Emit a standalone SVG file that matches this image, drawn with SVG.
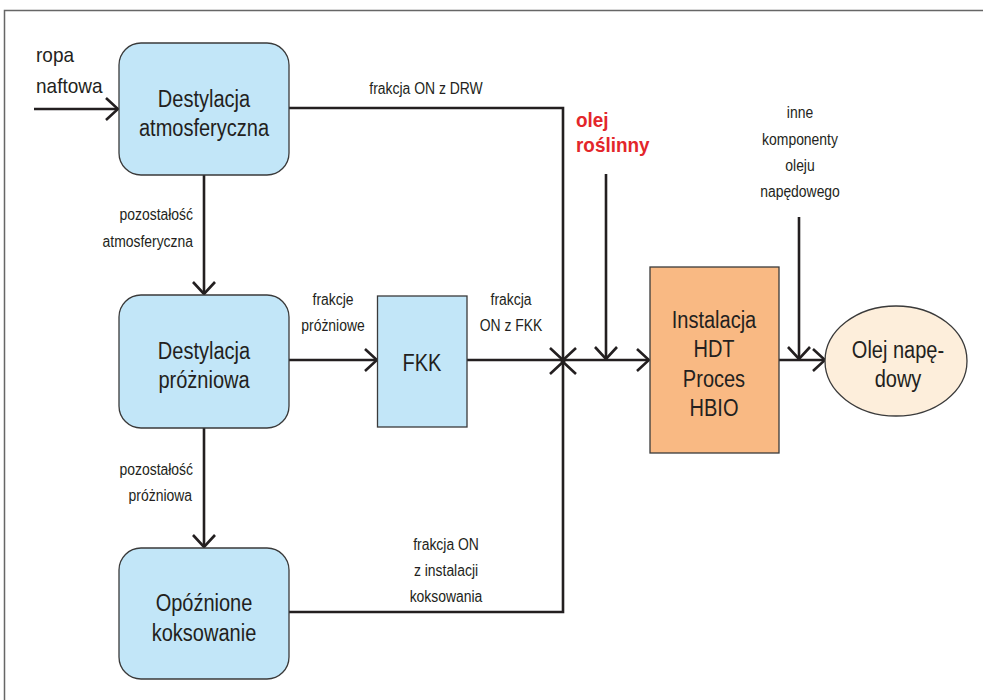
<svg xmlns="http://www.w3.org/2000/svg" width="983" height="700" viewBox="0 0 983 700">
<defs>
<style>
.t{font-family:"Liberation Sans",Arial,sans-serif;fill:#231f20;text-anchor:middle}
.big{font-size:23px}
.sm{font-size:16px}
.e{text-anchor:end}
.s{text-anchor:start}
.red{font-size:21px;font-weight:bold;fill:#e3262b;text-anchor:start}
.box{fill:#c2e6f8;stroke:#3a3a3a;stroke-width:1.3}
.ln{fill:none;stroke:#231f20;stroke-width:2.6}
</style>
<marker id="arr" markerUnits="userSpaceOnUse" viewBox="0 0 14 24" refX="13" refY="12" markerWidth="14" markerHeight="24" orient="auto">
<path d="M1,1 L13,12 L1,23" fill="none" stroke="#231f20" stroke-width="2.6"/>
</marker>
</defs>
<rect x="4.5" y="10.5" width="1100" height="800" fill="none" stroke="#666" stroke-width="1.5"/>

<g id="connectors">
<path class="ln" d="M34,109 H118" marker-end="url(#arr)"/>
<path class="ln" d="M289,108 H563 V612 H289"/>
<path class="ln" d="M204,175 V294" marker-end="url(#arr)"/>
<path class="ln" d="M204,428 V547" marker-end="url(#arr)"/>
<path class="ln" d="M289,360 H377" marker-end="url(#arr)"/>
<path class="ln" d="M467,360 H563"/>
<path class="ln" d="M550,348 L564,361 L550,374 M576,348 L562,361 L576,374" stroke-width="2"/>
<path class="ln" d="M563,360 H649" marker-end="url(#arr)"/>
<path class="ln" d="M606,174 V359" marker-end="url(#arr)"/>
<path class="ln" d="M799,217 V359" marker-end="url(#arr)"/>
<path class="ln" d="M779,360 H825" marker-end="url(#arr)"/>
</g>

<g id="ropa">
<text class="t s" style="font-size:20px" transform="matrix(0.95 0 0 1 36 62)">ropa</text>
<text class="t s" style="font-size:20px" transform="matrix(0.95 0 0 1 36 93)">naftowa</text>
</g>

<g id="atm">
<rect class="box" x="119" y="43" width="170" height="132" rx="22"/>
<text class="t big" transform="matrix(0.87 0 0 1 204 107)">Destylacja</text>
<text class="t big" transform="matrix(0.87 0 0 1 204 136)">atmosferyczna</text>
</g>

<g id="prozn">
<rect class="box" x="119" y="295" width="170" height="133" rx="22"/>
<text class="t big" transform="matrix(0.87 0 0 1 204 359)">Destylacja</text>
<text class="t big" transform="matrix(0.87 0 0 1 204 388)">próżniowa</text>
</g>

<g id="koks">
<rect class="box" x="119" y="548" width="170" height="131" rx="22"/>
<text class="t big" transform="matrix(0.87 0 0 1 204 611)">Opóźnione</text>
<text class="t big" transform="matrix(0.87 0 0 1 204 641)">koksowanie</text>
</g>

<g id="fkk">
<rect class="box" x="377.5" y="296" width="89.5" height="131"/>
<text class="t big" transform="matrix(0.87 0 0 1 422 371)">FKK</text>
</g>

<g id="hdt">
<rect x="650" y="267" width="129" height="186" fill="#f9b983" stroke="#3a3a3a" stroke-width="1.3"/>
<text class="t big" transform="matrix(0.87 0 0 1 714 328)">Instalacja</text>
<text class="t big" transform="matrix(0.87 0 0 1 714 357)">HDT</text>
<text class="t big" transform="matrix(0.87 0 0 1 714 387)">Proces</text>
<text class="t big" transform="matrix(0.87 0 0 1 714 416)">HBIO</text>
</g>

<g id="olej">
<ellipse cx="896" cy="361" rx="71" ry="55" fill="#fdeedb" stroke="#3a3a3a" stroke-width="1.3"/>
<text class="t big" transform="matrix(0.87 0 0 1 898 358)">Olej napę-</text>
<text class="t big" transform="matrix(0.87 0 0 1 898 387)">dowy</text>
</g>

<g id="labels">
<text class="t sm" transform="matrix(0.87 0 0 1 426 94)">frakcja ON z DRW</text>
<text class="t sm e" transform="matrix(0.87 0 0 1 193 220)">pozostałość</text>
<text class="t sm e" transform="matrix(0.87 0 0 1 193 247)">atmosferyczna</text>
<text class="t sm e" transform="matrix(0.87 0 0 1 193 475)">pozostałość</text>
<text class="t sm e" transform="matrix(0.87 0 0 1 192 501)">próżniowa</text>
<text class="t sm" transform="matrix(0.87 0 0 1 333 305)">frakcje</text>
<text class="t sm" transform="matrix(0.87 0 0 1 333 331)">próżniowe</text>
<text class="t sm" transform="matrix(0.87 0 0 1 511 305)">frakcja</text>
<text class="t sm" transform="matrix(0.87 0 0 1 511 331)">ON z FKK</text>
<text class="t sm" transform="matrix(0.87 0 0 1 446 550)">frakcja ON</text>
<text class="t sm" transform="matrix(0.87 0 0 1 446 576)">z instalacji</text>
<text class="t sm" transform="matrix(0.87 0 0 1 446 602)">koksowania</text>
<text class="t sm" transform="matrix(0.87 0 0 1 800 118)">inne</text>
<text class="t sm" transform="matrix(0.87 0 0 1 800 145)">komponenty</text>
<text class="t sm" transform="matrix(0.87 0 0 1 800 171)">oleju</text>
<text class="t sm" transform="matrix(0.87 0 0 1 800 197)">napędowego</text>
<text class="t red" transform="matrix(0.9 0 0 1 576 127)">olej</text>
<text class="t red" transform="matrix(0.9 0 0 1 576 152)">roślinny</text>
</g>
</svg>
